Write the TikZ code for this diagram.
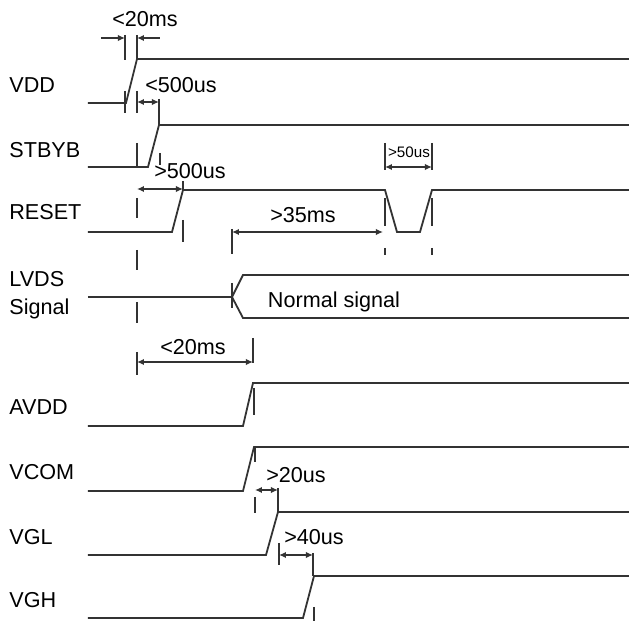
\documentclass[tikz,border=0pt]{standalone}
\usepackage{fontspec}
\setmainfont{Liberation Sans}
\usetikzlibrary{arrows.meta}

\begin{document}
\begin{tikzpicture}[
    x=0.5pt, y=-0.5pt,
    wave/.style={draw=black!80, line width=0.9pt},
    ext/.style={draw=black!80, line width=0.7pt},
    dim/.style={draw=black!80, line width=0.7pt, {Latex[length=3.5pt,width=3.2pt]}-{Latex[length=3.5pt,width=3.2pt]}},
    tip/.style={draw=black!80, line width=0.7pt, -{Latex[length=3.5pt,width=3.2pt]}},
    sig/.style={anchor=base west, inner sep=0pt, font=\fontsize{10.8}{13}\selectfont},
    val/.style={anchor=base, inner sep=0pt, font=\fontsize{10.8}{13}\selectfont},
    small/.style={anchor=base, inner sep=0pt, font=\fontsize{7.6}{9}\selectfont}
]
\useasboundingbox (0,0) rectangle (629,621);

% Signal names
\node[sig] (vdd) at (9,92) {VDD};
\node[sig] (stbyb) at (9,157) {STBYB};
\node[sig] (reset) at (9,220) {RESET};
\node[sig] (lvds) at (9,287) {LVDS};
\node[sig] (lvds2) at (9,315) {Signal};
\node[sig] (avdd) at (9,415) {AVDD};
\node[sig] (vcom) at (9,480) {VCOM};
\node[sig] (vgl) at (9,545) {VGL};
\node[sig] (vgh) at (9,608) {VGH};

% Waveforms
\draw[wave] (88,103) -- (126,103) -- (137,59) -- (629,59);
\draw[wave] (88,167) -- (148,167) -- (159,125) -- (629,125);
\draw[wave] (88,232) -- (172,232) -- (183,190) -- (385,190) -- (397,232) -- (420,232) -- (432,190) -- (629,190);
\draw[wave] (88,297) -- (232,297);
\draw[wave] (629,275) -- (243,275) -- (232,297) -- (243,318) -- (629,318);
\node[val] (normal) at (334,308) {Normal signal};
\draw[wave] (88,426) -- (243,426) -- (253,383) -- (629,383);
\draw[wave] (88,491) -- (243,491) -- (254,447) -- (629,447);
\draw[wave] (88,555) -- (266,555) -- (278,512) -- (629,512);
\draw[wave] (88,618) -- (303,618) -- (314,576) -- (629,576);

% Timing marks
\draw[ext] (125,35) -- (125,60);
\draw[ext] (125,91) -- (125,113);
\draw[ext] (137,35) -- (137,59);
\draw[tip] (101,38) -- (125,38);
\draw[tip] (160,38) -- (137,38);
\node[val] (t1) at (145,26) {<20ms};

\draw[ext] (137,91) -- (137,113);
\draw[ext] (159,99) -- (159,125);
\draw[dim] (137,102) -- (159,102);
\node[val] (t2) at (181,92) {<500us};

\draw[ext] (137,143) -- (137,167);
\draw[ext] (160,153) -- (160,165);
\draw[ext] (137,198) -- (137,218);
\draw[ext] (183,181) -- (183,190);
\draw[ext] (183,220) -- (183,242);
\draw[dim] (137,189) -- (183,189);
\node[val] (t3) at (190,178) {>500us};

\draw[ext] (385,143) -- (385,170);
\draw[ext] (432,143) -- (432,170);
\draw[dim] (385,167) -- (432,167);
\node[small] (t4) at (409,158) {>50us};

\draw[ext] (232,229) -- (232,254);
\draw[ext] (385,198) -- (385,226);
\draw[ext] (385,248) -- (385,255);
\draw[ext] (432,198) -- (432,226);
\draw[ext] (432,248) -- (432,255);
\draw[dim] (232,232) -- (383,232);
\node[val] (t5) at (303,223) {>35ms};

\draw[ext] (137,250) -- (137,270);
\draw[ext] (137,302) -- (137,323);
\draw[ext] (232,283) -- (232,308);

\draw[ext] (137,352) -- (137,375);
\draw[ext] (253,338) -- (253,363);
\draw[dim] (137,362) -- (253,362);
\node[val] (t6) at (193,355) {<20ms};

\draw[ext] (254,388) -- (254,415);
\draw[ext] (255,447) -- (255,462);
\draw[ext] (255,497) -- (255,513);
\draw[ext] (278,488) -- (278,512);
\draw[dim] (255,490) -- (278,490);
\node[val] (t7) at (296,483) {>20us};

\draw[ext] (279,543) -- (279,565);
\draw[ext] (313,553) -- (313,576);
\draw[dim] (279,555) -- (313,555);
\node[val] (t8) at (314,545) {>40us};

\draw[ext] (314,607) -- (314,621);
\end{tikzpicture}
\end{document}
